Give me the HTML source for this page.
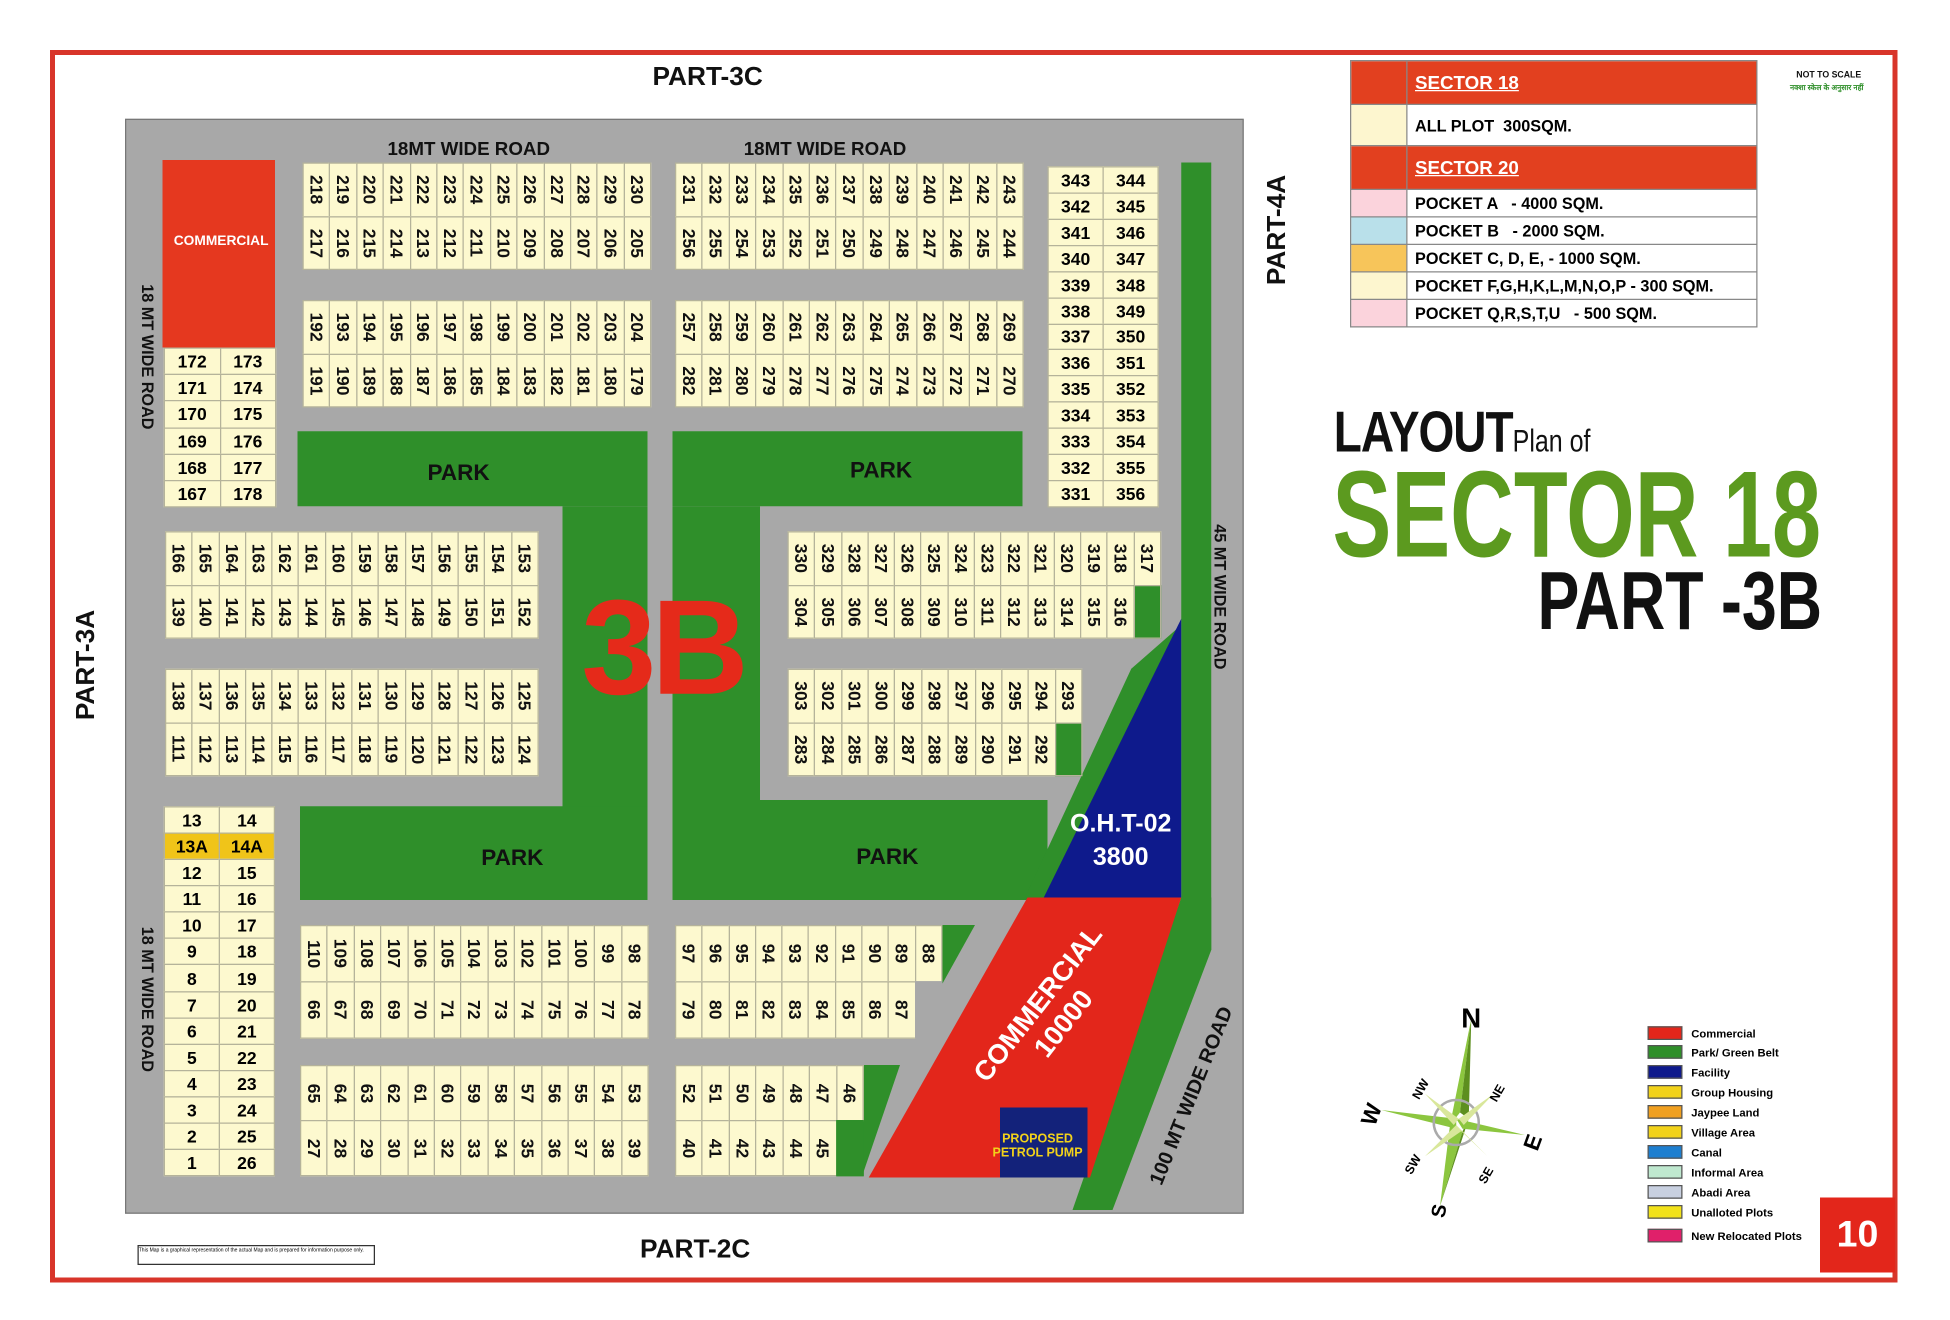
<!DOCTYPE html>
<html><head><meta charset="utf-8"><style>
html,body{margin:0;padding:0;background:#fff;}
#w{width:1950px;height:1320px;overflow:hidden;position:relative;}
#s{position:absolute;left:0;top:0;width:1560px;height:1056px;transform:scale(1.25);transform-origin:0 0;font-family:"Liberation Sans",sans-serif;}
.a{position:absolute;}
.blk{position:absolute;display:flex;flex-direction:column;}
.r{display:flex;flex:1;}
.r span{flex:1;border:1px solid #b5b39a;background:#fdf9cf;writing-mode:vertical-rl;display:flex;align-items:center;justify-content:center;font:bold 14px "Liberation Sans Narrow","Liberation Sans",sans-serif;color:#111;margin:0 -1px -1px 0;}
.p{position:absolute;display:flex;flex-direction:column;}
.p div{display:flex;flex:1;}
.p span{flex:1;border:1px solid #b5b39a;background:#fdf9cf;display:flex;align-items:center;justify-content:center;font:bold 14px "Liberation Sans",sans-serif;margin:0 -1px -1px 0;}
.g{position:absolute;background:#2f8f2a;}
.lbl{position:absolute;font-weight:bold;color:#111;white-space:nowrap;}
.lg td{border:1px solid #888;font:bold 13px "Liberation Sans",sans-serif;padding:0 6px;height:21px;white-space:nowrap;}
.li{position:absolute;left:1318px;font:bold 9px "Liberation Sans",sans-serif;display:flex;align-items:center;}
.li i{display:inline-block;width:26px;height:9px;margin-right:7px;border:1px solid #555;}
</style></head><body><div id="w"><div id="s">
<div class="a" style="left:40px;top:40px;width:1470px;height:978px;border:4px solid #d8352a;"></div>
<div class="lbl" style="left:522px;top:50px;font-size:21px;">PART-3C</div>
<div class="lbl" style="left:512px;top:988px;font-size:21px;">PART-2C</div>
<div class="lbl" style="left:25px;top:520px;font-size:21px;transform:rotate(-90deg);">PART-3A</div>
<div class="lbl" style="left:978px;top:172px;font-size:21px;transform:rotate(-90deg);">PART-4A</div>
<!-- map -->
<div class="a" style="left:100px;top:95px;width:893px;height:874px;background:#a8a8a8;border:1px solid #777;"></div>
<!-- green -->
<div class="g" style="left:945px;top:130px;width:24px;height:630px;"></div>
<div class="g" style="left:238px;top:345px;width:280px;height:60px;"></div>
<div class="g" style="left:450px;top:405px;width:68px;height:315px;"></div>
<div class="g" style="left:240px;top:645px;width:278px;height:75px;"></div>
<div class="g" style="left:538px;top:345px;width:280px;height:60px;"></div>
<div class="g" style="left:538px;top:405px;width:70px;height:315px;"></div>
<div class="g" style="left:538px;top:640px;width:300px;height:80px;"></div>
<svg class="a" style="left:0;top:0" width="1000" height="1000">
<polygon points="905,535 945,500 840,718 820,718" fill="#2f8f2a"/>
<polygon points="945,495 945,718 835,718" fill="#0e1a8c"/>
<polygon points="945,718 969,718 969,760 890,968 858,968" fill="#2f8f2a"/>
<polygon points="822,718 945,718 872,942 695,942" fill="#e3261b"/>
<rect x="800" y="886" width="70" height="56" fill="#13227a"/>
<polygon points="752,740 780,740 730,830 700,830" fill="#2f8f2a"/>
<polygon points="690,852 720,852 690,940 672,940" fill="#2f8f2a"/>
</svg>
<div class="lbl" style="left:310px;top:111px;font-size:15px;">18MT WIDE ROAD</div>
<div class="lbl" style="left:595px;top:111px;font-size:15px;">18MT WIDE ROAD</div>
<div class="lbl" style="left:60px;top:278px;font-size:13px;transform:rotate(90deg);">18 MT WIDE ROAD</div>
<div class="lbl" style="left:60px;top:792px;font-size:13px;transform:rotate(90deg);">18 MT WIDE ROAD</div>
<div class="lbl" style="left:918px;top:470px;font-size:13px;transform:rotate(90deg);">45 MT WIDE ROAD</div>
<div class="lbl" style="left:878px;top:868px;font-size:16px;transform:rotate(-68deg);">100 MT WIDE ROAD</div>
<div class="lbl" style="left:342px;top:368px;font-size:18px;">PARK</div>
<div class="lbl" style="left:680px;top:366px;font-size:18px;">PARK</div>
<div class="lbl" style="left:385px;top:676px;font-size:18px;">PARK</div>
<div class="lbl" style="left:685px;top:675px;font-size:18px;">PARK</div>
<div class="lbl" style="left:856px;top:646px;font-size:20px;color:#fff;text-align:center;line-height:27px;">O.H.T-02<br>3800</div>
<div class="lbl" style="left:765px;top:785px;font-size:22px;color:#fff;transform:rotate(-52deg);text-align:center;line-height:26px;">COMMERCIAL<br>10000</div>
<div class="lbl" style="left:794px;top:906px;font-size:10px;color:#f2d21a;text-align:center;line-height:11px;">PROPOSED<br>PETROL PUMP</div>
<div class="a" style="left:130px;top:128px;width:90px;height:150px;background:#e5381f;"></div>
<div class="lbl" style="left:139px;top:187px;font-size:11px;color:#fff;">COMMERCIAL</div>
<div class="lbl" style="left:465px;top:455px;font-size:108px;color:#e52a1a;letter-spacing:-4px;">3B</div>
<!-- blocks -->
<div class="blk" style="left:242px;top:130px;width:278px;height:85px;"><div class="r"><span>218</span><span>219</span><span>220</span><span>221</span><span>222</span><span>223</span><span>224</span><span>225</span><span>226</span><span>227</span><span>228</span><span>229</span><span>230</span></div><div class="r"><span>217</span><span>216</span><span>215</span><span>214</span><span>213</span><span>212</span><span>211</span><span>210</span><span>209</span><span>208</span><span>207</span><span>206</span><span>205</span></div></div>
<div class="blk" style="left:540px;top:130px;width:278px;height:85px;"><div class="r"><span>231</span><span>232</span><span>233</span><span>234</span><span>235</span><span>236</span><span>237</span><span>238</span><span>239</span><span>240</span><span>241</span><span>242</span><span>243</span></div><div class="r"><span>256</span><span>255</span><span>254</span><span>253</span><span>252</span><span>251</span><span>250</span><span>249</span><span>248</span><span>247</span><span>246</span><span>245</span><span>244</span></div></div>
<div class="blk" style="left:242px;top:240px;width:278px;height:85px;"><div class="r"><span>192</span><span>193</span><span>194</span><span>195</span><span>196</span><span>197</span><span>198</span><span>199</span><span>200</span><span>201</span><span>202</span><span>203</span><span>204</span></div><div class="r"><span>191</span><span>190</span><span>189</span><span>188</span><span>187</span><span>186</span><span>185</span><span>184</span><span>183</span><span>182</span><span>181</span><span>180</span><span>179</span></div></div>
<div class="blk" style="left:540px;top:240px;width:278px;height:85px;"><div class="r"><span>257</span><span>258</span><span>259</span><span>260</span><span>261</span><span>262</span><span>263</span><span>264</span><span>265</span><span>266</span><span>267</span><span>268</span><span>269</span></div><div class="r"><span>282</span><span>281</span><span>280</span><span>279</span><span>278</span><span>277</span><span>276</span><span>275</span><span>274</span><span>273</span><span>272</span><span>271</span><span>270</span></div></div>
<div class="blk" style="left:132px;top:425px;width:298px;height:85px;"><div class="r"><span>166</span><span>165</span><span>164</span><span>163</span><span>162</span><span>161</span><span>160</span><span>159</span><span>158</span><span>157</span><span>156</span><span>155</span><span>154</span><span>153</span></div><div class="r"><span>139</span><span>140</span><span>141</span><span>142</span><span>143</span><span>144</span><span>145</span><span>146</span><span>147</span><span>148</span><span>149</span><span>150</span><span>151</span><span>152</span></div></div>
<div class="blk" style="left:132px;top:535px;width:298px;height:85px;"><div class="r"><span>138</span><span>137</span><span>136</span><span>135</span><span>134</span><span>133</span><span>132</span><span>131</span><span>130</span><span>129</span><span>128</span><span>127</span><span>126</span><span>125</span></div><div class="r"><span>111</span><span>112</span><span>113</span><span>114</span><span>115</span><span>116</span><span>117</span><span>118</span><span>119</span><span>120</span><span>121</span><span>122</span><span>123</span><span>124</span></div></div>
<div class="blk" style="left:630px;top:425px;width:298px;height:85px;"><div class="r"><span>330</span><span>329</span><span>328</span><span>327</span><span>326</span><span>325</span><span>324</span><span>323</span><span>322</span><span>321</span><span>320</span><span>319</span><span>318</span><span>317</span></div><div class="r"><span>304</span><span>305</span><span>306</span><span>307</span><span>308</span><span>309</span><span>310</span><span>311</span><span>312</span><span>313</span><span>314</span><span>315</span><span>316</span><span style="background:#2f8f2a"></span></div></div>
<div class="blk" style="left:630px;top:535px;width:235px;height:85px;"><div class="r"><span>303</span><span>302</span><span>301</span><span>300</span><span>299</span><span>298</span><span>297</span><span>296</span><span>295</span><span>294</span><span>293</span></div><div class="r"><span>283</span><span>284</span><span>285</span><span>286</span><span>287</span><span>288</span><span>289</span><span>290</span><span>291</span><span>292</span><span style="background:#2f8f2a"></span></div></div>
<div class="blk" style="left:240px;top:740px;width:278px;height:90px;"><div class="r"><span>110</span><span>109</span><span>108</span><span>107</span><span>106</span><span>105</span><span>104</span><span>103</span><span>102</span><span>101</span><span>100</span><span>99</span><span>98</span></div><div class="r"><span>66</span><span>67</span><span>68</span><span>69</span><span>70</span><span>71</span><span>72</span><span>73</span><span>74</span><span>75</span><span>76</span><span>77</span><span>78</span></div></div>
<div class="blk" style="left:540px;top:740px;width:213px;height:90px;"><div class="r"><span>97</span><span>96</span><span>95</span><span>94</span><span>93</span><span>92</span><span>91</span><span>90</span><span>89</span><span>88</span></div><div class="r"><span>79</span><span>80</span><span>81</span><span>82</span><span>83</span><span>84</span><span>85</span><span>86</span><span>87</span><span style="background:#a8a8a8;border-color:#a8a8a8"></span></div></div>
<div class="blk" style="left:240px;top:852px;width:278px;height:88px;"><div class="r"><span>65</span><span>64</span><span>63</span><span>62</span><span>61</span><span>60</span><span>59</span><span>58</span><span>57</span><span>56</span><span>55</span><span>54</span><span>53</span></div><div class="r"><span>27</span><span>28</span><span>29</span><span>30</span><span>31</span><span>32</span><span>33</span><span>34</span><span>35</span><span>36</span><span>37</span><span>38</span><span>39</span></div></div>
<div class="blk" style="left:540px;top:852px;width:150px;height:88px;"><div class="r"><span>52</span><span>51</span><span>50</span><span>49</span><span>48</span><span>47</span><span>46</span></div><div class="r"><span>40</span><span>41</span><span>42</span><span>43</span><span>44</span><span>45</span><span style="background:#2f8f2a;border-color:#2f8f2a"></span></div></div>
<!-- pair columns -->
<div class="p" style="left:838px;top:133px;width:88px;height:272px;"><div><span>343</span><span>344</span></div><div><span>342</span><span>345</span></div><div><span>341</span><span>346</span></div><div><span>340</span><span>347</span></div><div><span>339</span><span>348</span></div><div><span>338</span><span>349</span></div><div><span>337</span><span>350</span></div><div><span>336</span><span>351</span></div><div><span>335</span><span>352</span></div><div><span>334</span><span>353</span></div><div><span>333</span><span>354</span></div><div><span>332</span><span>355</span></div><div><span>331</span><span>356</span></div></div>
<div class="p" style="left:131px;top:278px;width:89px;height:127px;"><div><span>172</span><span>173</span></div><div><span>171</span><span>174</span></div><div><span>170</span><span>175</span></div><div><span>169</span><span>176</span></div><div><span>168</span><span>177</span></div><div><span>167</span><span>178</span></div></div>
<div class="p" style="left:131px;top:645px;width:88px;height:295px;"><div><span>13</span><span>14</span></div><div><span style="background:#f0c419">13A</span><span style="background:#f0c419">14A</span></div><div><span>12</span><span>15</span></div><div><span>11</span><span>16</span></div><div><span>10</span><span>17</span></div><div><span>9</span><span>18</span></div><div><span>8</span><span>19</span></div><div><span>7</span><span>20</span></div><div><span>6</span><span>21</span></div><div><span>5</span><span>22</span></div><div><span>4</span><span>23</span></div><div><span>3</span><span>24</span></div><div><span>2</span><span>25</span></div><div><span>1</span><span>26</span></div></div>
<div class="a" style="left:110px;top:996px;width:188px;height:14px;border:1px solid #333;font-size:4px;line-height:5px;">This Map is a graphical representation of the actual Map and is prepared for information purpose only.</div>
<!-- legend table -->
<table class="a lg" style="left:1080px;top:48px;width:326px;border-collapse:collapse;">
<tr><td style="background:#e2401f;width:32px;height:34px"></td><td style="background:#e2401f;color:#fff;font-size:15px;text-decoration:underline">SECTOR 18</td></tr>
<tr><td style="background:#fdf6cf;height:32px"></td><td>ALL PLOT&nbsp; 300SQM.</td></tr>
<tr><td style="background:#e2401f;height:34px"></td><td style="background:#e2401f;color:#fff;font-size:15px;text-decoration:underline">SECTOR 20</td></tr>
<tr><td style="background:#fbd3dc"></td><td>POCKET A &nbsp; - 4000 SQM.</td></tr>
<tr><td style="background:#b9e0ea"></td><td>POCKET B &nbsp; - 2000 SQM.</td></tr>
<tr><td style="background:#f7c55a"></td><td>POCKET C, D, E, - 1000 SQM.</td></tr>
<tr><td style="background:#fdf6cf"></td><td>POCKET F,G,H,K,L,M,N,O,P - 300 SQM.</td></tr>
<tr><td style="background:#fbd3dc"></td><td>POCKET Q,R,S,T,U &nbsp; - 500 SQM.</td></tr>
</table>
<div class="lbl" style="left:1437px;top:57px;font-size:7px;">NOT TO SCALE</div>
<div class="lbl" style="left:1432px;top:66px;font-size:6px;color:#2f8f2a;">नक्शा स्केल के अनुसार नहीं</div>
<!-- title -->
<div class="lbl" style="left:1067px;top:318px;font-size:46px;transform:scaleX(0.8);transform-origin:0 0;letter-spacing:-1px;">LAYOUT<span style="font-size:25px;font-weight:normal;letter-spacing:0">Plan of</span></div>
<div class="lbl" style="left:1066px;top:355px;font-size:98px;color:#5c9a1f;transform:scaleX(0.72);transform-origin:0 0;">SECTOR 18</div>
<div class="lbl" style="left:1230px;top:442px;font-size:66px;transform:scaleX(0.76);transform-origin:0 0;">PART -3B</div>
<!-- compass -->
<svg class="a" style="left:1085px;top:800px" width="160" height="180">
<polygon points="92,15 83,90 75,100" fill="#8cc63f"/><polygon points="92,15 90,95 83,90" fill="#5d8f1f"/>
<polygon points="67,165 75,100 85,105" fill="#8cc63f"/><polygon points="67,165 85,105 90,95" fill="#5d8f1f"/>
<polygon points="20,88 80,95 80,103" fill="#8cc63f"/><polygon points="135,108 80,95 85,103" fill="#8cc63f"/>
<circle cx="80" cy="98" r="18" fill="none" stroke="#aaa" stroke-width="2"/>
<polygon points="55,75 82,95 78,100" fill="#d9e79b"/><polygon points="110,75 82,95 86,100" fill="#d9e79b"/>
<polygon points="55,125 80,100 84,105" fill="#d9e79b"/><polygon points="105,125 80,100 84,105" fill="#d9e79b"/>
<text x="84" y="22" font-family="Liberation Sans" font-weight="bold" font-size="22">N</text>
<text x="4" y="98" font-family="Liberation Sans" font-weight="bold" font-size="18" transform="rotate(-70 12 92)">W</text>
<text x="134" y="118" font-family="Liberation Sans" font-weight="bold" font-size="18" transform="rotate(-70 142 112)">E</text>
<text x="58" y="172" font-family="Liberation Sans" font-weight="bold" font-size="16" transform="rotate(-80 66 166)">S</text>
<text x="42" y="78" font-family="Liberation Sans" font-weight="bold" font-size="10" transform="rotate(-60 48 72)">NW</text>
<text x="104" y="80" font-family="Liberation Sans" font-weight="bold" font-size="10" transform="rotate(-60 110 74)">NE</text>
<text x="36" y="138" font-family="Liberation Sans" font-weight="bold" font-size="10" transform="rotate(-60 42 132)">SW</text>
<text x="96" y="145" font-family="Liberation Sans" font-weight="bold" font-size="10" transform="rotate(-60 102 140)">SE</text>
</svg>
<div class="li" style="top:821px"><i style="background:#e3261b"></i>Commercial</div>
<div class="li" style="top:836px"><i style="background:#2f8f2a"></i>Park/ Green Belt</div>
<div class="li" style="top:852px"><i style="background:#0e1a8c"></i>Facility</div>
<div class="li" style="top:868px"><i style="background:#f2d21a"></i>Group Housing</div>
<div class="li" style="top:884px"><i style="background:#f0a020"></i>Jaypee Land</div>
<div class="li" style="top:900px"><i style="background:#f2d21a"></i>Village Area</div>
<div class="li" style="top:916px"><i style="background:#1e7fd0"></i>Canal</div>
<div class="li" style="top:932px"><i style="background:#bfe8cf"></i>Informal Area</div>
<div class="li" style="top:948px"><i style="background:#c8d0e0"></i>Abadi Area</div>
<div class="li" style="top:964px"><i style="background:#f2e21a"></i>Unalloted Plots</div>
<div class="li" style="top:983px"><i style="background:#e0206a"></i>New Relocated Plots</div>
<div class="a" style="left:1456px;top:958px;width:60px;height:60px;background:#e3261b;color:#fff;font:bold 30px 'Liberation Sans',sans-serif;display:flex;align-items:center;justify-content:center;">10</div>
</div></div></body></html>
